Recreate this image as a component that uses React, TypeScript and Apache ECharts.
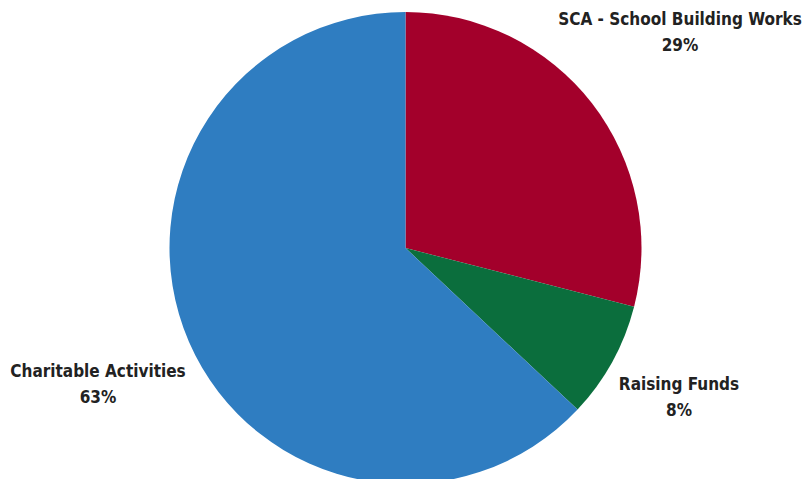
import React, { useEffect, useRef } from "react";
import * as echarts from "echarts";

const categories = ["SCA - School Building Works", "Raising Funds", "Charitable Activities"];
const values = [29, 8, 63];
const colors = ["#a3002b", "#0b6e3d", "#2f7dc1"];
const labelPositions = [
  [680, 32],
  [679, 397],
  [98, 384],
];

export default function App() {
  const ref = useRef<HTMLDivElement>(null);
  useEffect(() => {
    if (!ref.current) return;
    const chart = echarts.init(ref.current, undefined, { renderer: "svg" });
    chart.setOption({
      animation: false,
      backgroundColor: "#ffffff",
      series: [
        {
          type: "pie",
          center: [405.5, 248],
          radius: 236,
          startAngle: 90,
          clockwise: true,
          silent: true,
          data: categories.map((name, i) => ({
            name,
            value: values[i],
            itemStyle: { color: colors[i] },
          })),
          label: {
            show: true,
            position: "outside",
            alignTo: "none",
            overflow: "none",
            width: 400,
            formatter: "{b}\n{d}%",
            color: "#222222",
            fontFamily: "DejaVu Sans Condensed",
            fontWeight: "bold",
            fontSize: 17,
            lineHeight: 26,
            align: "center",
          },
          labelLine: { show: false },
          labelLayout: (params: any) => {
            const p = labelPositions[params.dataIndex];
            return { x: p[0], y: p[1], align: "center", verticalAlign: "middle" };
          },
        },
      ],
    });
    return () => chart.dispose();
  }, []);
  return (
    <div
      ref={ref}
      style={{ position: "fixed", left: 0, top: 0, width: 809, height: 479 }}
    />
  );
}
